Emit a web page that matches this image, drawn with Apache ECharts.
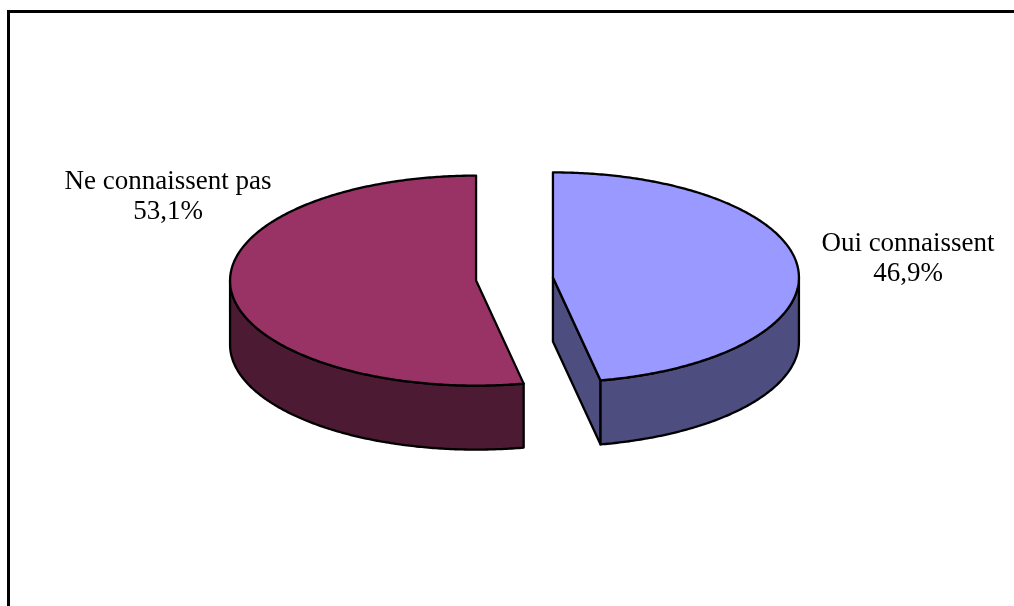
<!DOCTYPE html>
<html>
<head>
<meta charset="utf-8">
<script src="https://cdn.jsdelivr.net/npm/echarts@6/dist/echarts.min.js"></script>
<style>
  html, body { margin: 0; padding: 0; background: #fff; }
  #chart { width: 1014px; height: 606px; }
</style>
</head>
<body>
<div id="chart"></div>
<script>
// Survey answers: share of respondents who know / do not know
const categories = ['Oui connaissent', 'Ne connaissent pas'];
const shares = [46.9, 53.1];
const topColors = ['#9999FF', '#993366'];
const sideColors = ['#4D4D80', '#4D1A33'];

// 3D pie layout (pixels)
const CX = 514.5, CY = 279;     // pie centre
const RX = 246, RY = 105;       // ellipse radii of the top face
const DEPTH = 64;               // wall height
const EXPLODE = 0.157;          // slice pull-out, fraction of radius
const labelAnchors = [[908, 229], [168, 167]];

const total = shares.reduce((a, b) => a + b, 0);
const starts = [];
let acc = 0;
shares.forEach(v => { starts.push(acc / total * Math.PI * 2); acc += v; });

function pt(cx, cy, t, dy) {
  return [cx + RX * Math.sin(t), cy - RY * Math.cos(t) + (dy || 0)];
}
function arc(cx, cy, a, b, dy) {
  const n = Math.max(2, Math.ceil(Math.abs(b - a) / 0.01));
  const out = [];
  for (let i = 0; i <= n; i++) out.push(pt(cx, cy, a + (b - a) * i / n, dy));
  return out;
}
const fmt = v => v.toFixed(1).replace('.', ',') + '%';

function renderSlice(params, api) {
  const i = params.dataIndex;
  const v = api.value(1);
  const t0 = starts[i];
  const t1 = t0 + v / total * Math.PI * 2;
  const mid = (t0 + t1) / 2;
  const cx = CX + EXPLODE * RX * Math.sin(mid);
  const cy = CY - EXPLODE * RY * Math.cos(mid);
  const stroke = { stroke: '#000', lineWidth: 2.3, lineJoin: 'round' };
  const children = [];

  // cut faces visible toward the viewer
  [[t0, Math.sin(t0) < -1e-6], [t1, Math.sin(t1) > 1e-6]].forEach(([t, vis]) => {
    if (!vis) return;
    const e = pt(cx, cy, t);
    children.push({
      type: 'polygon',
      shape: { points: [[cx, cy], e, [e[0], e[1] + DEPTH], [cx, cy + DEPTH]] },
      style: Object.assign({ fill: sideColors[i] }, stroke)
    });
  });

  // front outer wall (angles between 3 and 9 o'clock)
  const a = Math.max(t0, Math.PI / 2), b = Math.min(t1, Math.PI * 1.5);
  if (b > a) {
    const top = arc(cx, cy, a, b, 0);
    const bot = arc(cx, cy, b, a, DEPTH);
    children.push({
      type: 'polygon',
      shape: { points: top.concat(bot) },
      style: Object.assign({ fill: sideColors[i] }, stroke)
    });
  }

  // top face
  children.push({
    type: 'polygon',
    shape: { points: [[cx, cy]].concat(arc(cx, cy, t0, t1, 0)) },
    style: Object.assign({ fill: topColors[i] }, stroke)
  });

  // label
  children.push({
    type: 'text',
    x: labelAnchors[i][0],
    y: labelAnchors[i][1],
    style: {
      text: categories[i] + '\n' + fmt(v),
      fill: '#000',
      font: '27px "Liberation Serif", "Times New Roman", serif',
      lineHeight: 30,
      align: 'center',
      verticalAlign: 'top'
    }
  });

  return { type: 'group', children: children };
}

const chart = echarts.init(document.getElementById('chart'));
chart.setOption({
  animation: false,
  backgroundColor: '#fff',
  graphic: [{
    type: 'rect',
    shape: { x: 8.5, y: 11.5, width: 1200, height: 800 },
    style: { fill: 'none', stroke: '#000', lineWidth: 3 },
    z: 10
  }],
  series: [{
    type: 'custom',
    coordinateSystem: 'none',
    renderItem: renderSlice,
    data: categories.map((c, i) => [i, shares[i]])
  }]
});
</script>
</body>
</html>
